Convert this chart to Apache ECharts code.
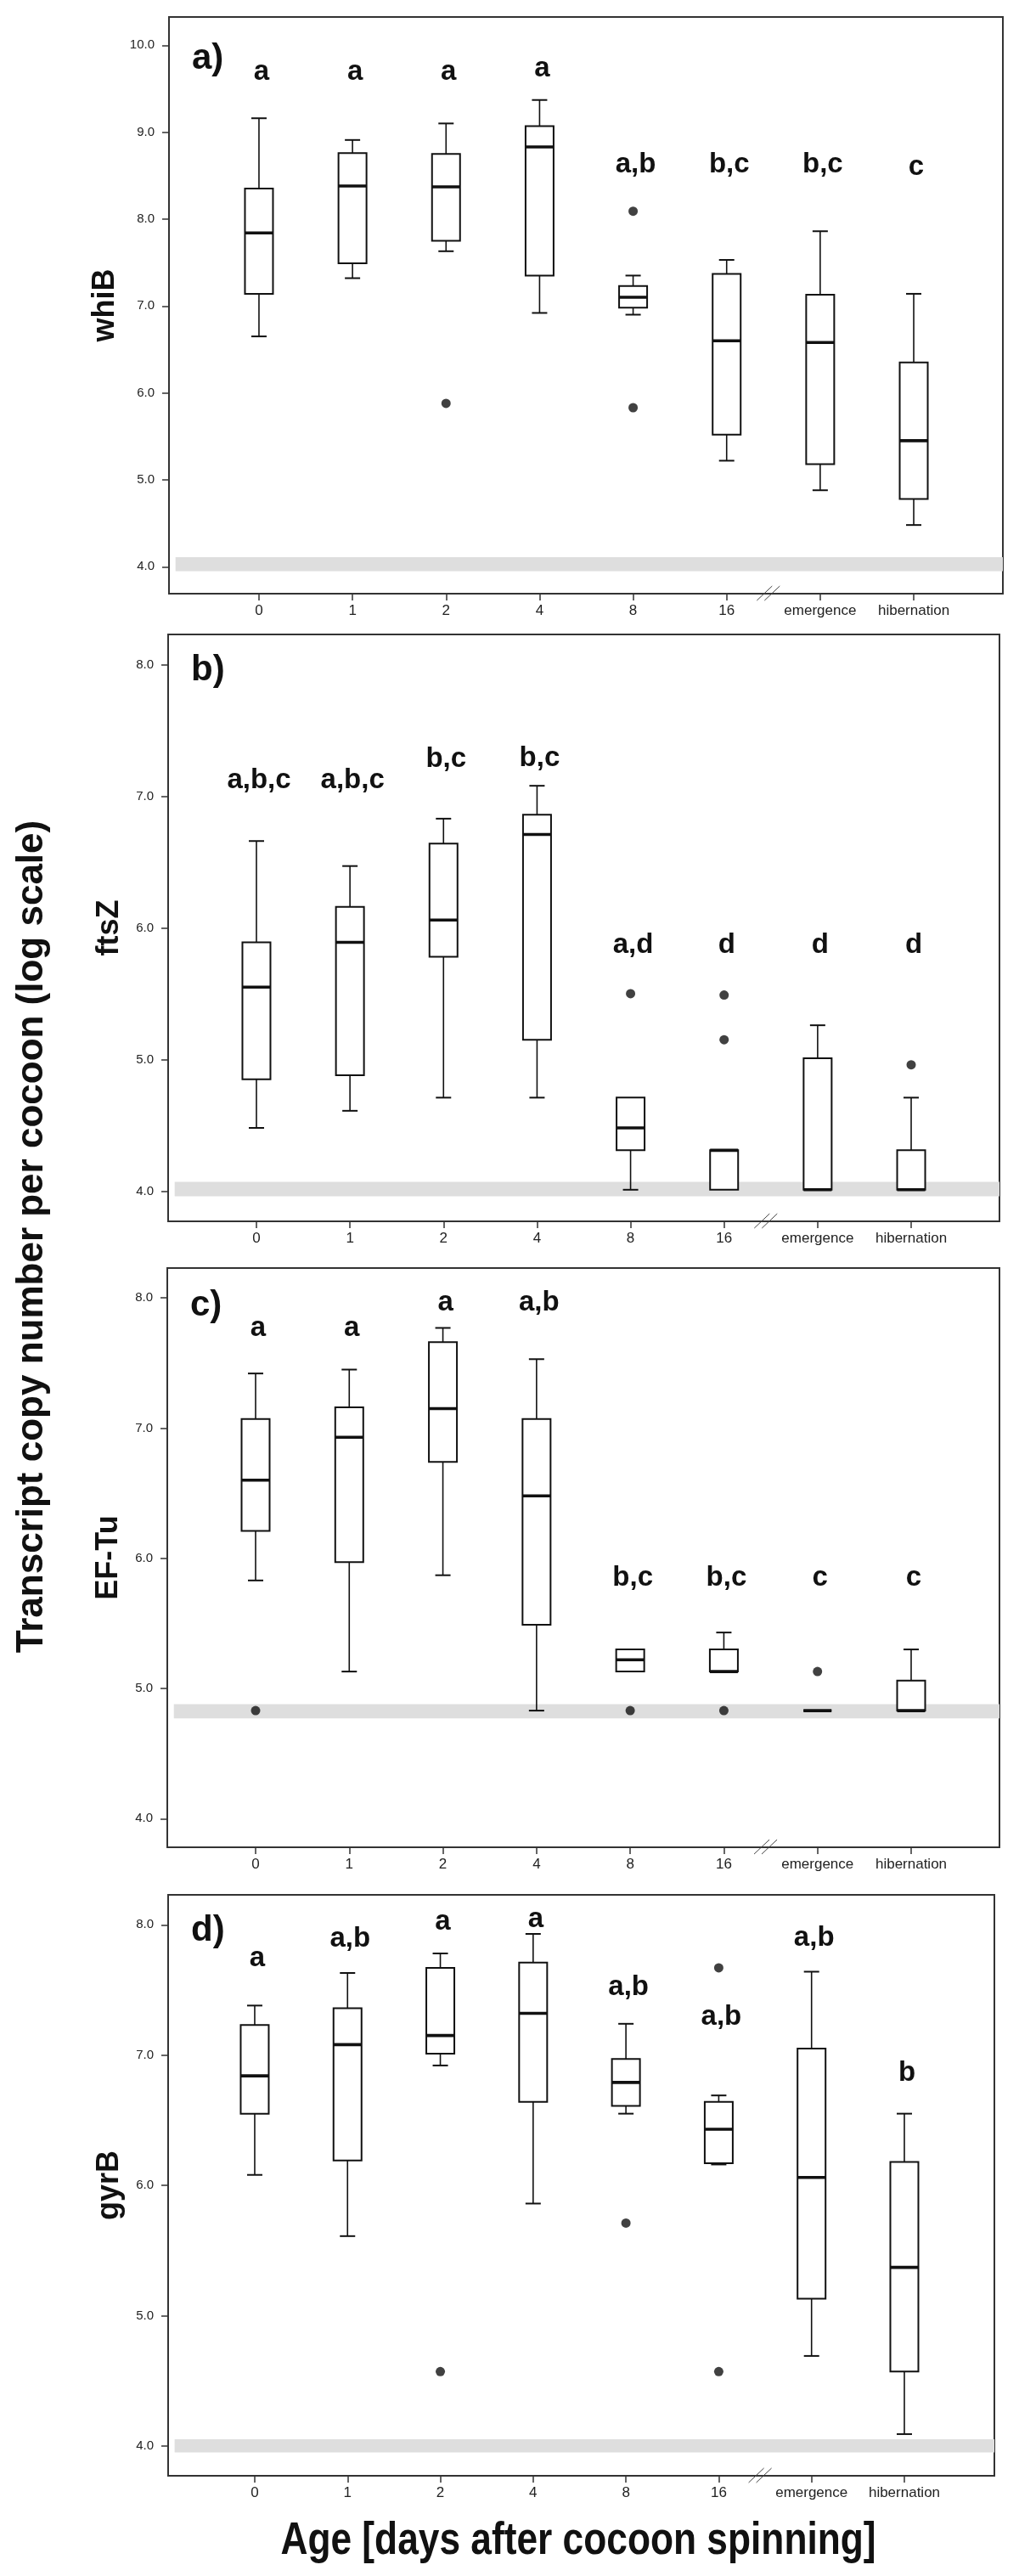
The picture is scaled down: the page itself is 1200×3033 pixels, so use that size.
<!DOCTYPE html>
<html><head><meta charset="utf-8">
<script src="https://cdn.jsdelivr.net/npm/echarts@6/dist/echarts.min.js"></script>
<style>html,body{margin:0;padding:0;background:#fff}#chart{width:1200px;height:3033px}</style>
</head><body><div id="chart"></div>
<script>
// ---------- DATA ----------
const categories = ['0', '1', '2', '4', '8', '16', 'emergence', 'hibernation'];

// box values per category: [min, Q1, median, Q3, max]
const whiB = [[6.65,7.14,7.84,8.35,9.16],[7.32,7.49,8.38,8.76,8.91],[7.63,7.75,8.37,8.75,9.10],[6.92,7.35,8.83,9.07,9.37],
              [6.90,6.98,7.10,7.23,7.35],[5.22,5.52,6.60,7.37,7.53],[4.88,5.18,6.58,7.13,7.86],[4.48,4.78,5.45,6.35,7.14]];
const whiBOutliers = [[2,5.88],[4,8.09],[4,5.83]];
const whiBLetters = ['a','a','a','a','a,b','b,c','b,c','c'];
const whiBLetterY = [9.69,9.69,9.69,9.73,8.63,8.63,8.63,8.60];

const ftsZ = [[4.48,4.85,5.55,5.89,6.66],[4.61,4.88,5.89,6.16,6.47],[4.71,5.78,6.06,6.64,6.83],[4.71,5.15,6.71,6.86,7.08],
              [4.01,4.31,4.48,4.71,4.71],[4.01,4.01,4.31,4.31,4.31],[4.01,4.01,4.01,5.01,5.26],[4.01,4.01,4.01,4.31,4.71]];
const ftsZOutliers = [[4,5.50],[5,5.49],[5,5.15],[7,4.96]];
const ftsZLetters = ['a,b,c','a,b,c','b,c','b,c','a,d','d','d','d'];
const ftsZLetterY = [7.12,7.12,7.28,7.29,5.87,5.87,5.87,5.87];

const efTu = [[5.83,6.21,6.60,7.07,7.42],[5.13,5.97,6.93,7.16,7.45],[5.87,6.74,7.15,7.66,7.77],[4.83,5.49,6.48,7.07,7.53],
              [5.13,5.13,5.22,5.30,5.30],[5.13,5.13,5.13,5.30,5.43],[4.83,4.83,4.83,4.83,4.83],[4.83,4.83,4.83,5.06,5.30]];
const efTuOutliers = [[0,4.83],[4,4.83],[5,4.83],[6,5.13]];
const efTuLetters = ['a','a','a','a,b','b,c','b,c','c','c'];
const efTuLetterY = [7.77,7.77,7.96,7.96,5.85,5.85,5.85,5.85];

const gyrB = [[6.08,6.55,6.84,7.23,7.38],[5.61,6.19,7.08,7.36,7.63],[6.92,7.01,7.15,7.67,7.78],[5.86,6.64,7.32,7.71,7.93],
              [6.55,6.61,6.79,6.97,7.24],[6.16,6.17,6.43,6.64,6.69],[4.69,5.13,6.06,7.05,7.64],[4.09,4.57,5.37,6.18,6.55]];
const gyrBOutliers = [[2,4.57],[4,5.71],[5,7.67],[5,4.57]];
const gyrBLetters = ['a','a,b','a','a','a,b','a,b','a,b','b'];
const gyrBLetterY = [7.74,7.89,8.02,8.04,7.52,7.29,7.90,6.86];

// detection-limit bands [low, high]
const bands = [[3.95,4.11],[3.96,4.07],[4.77,4.88],[3.95,4.05]];
const yTicksA = [4,5,6,7,8,9,10];
const yTicksB = [4,5,6,7,8];
const xTicks = [0,1,2,3,4,5,6,7];
const yTitle = 'Transcript copy number per cocoon (log scale)';
const xTitle = 'Age [days after cocoon spinning]';

// ---------- LAYOUT ----------
const panels = [
  {gene:'whiB', tag:'a)', box:whiB, out:whiBOutliers, let:whiBLetters, letY:whiBLetterY, band:bands[0], yt:yTicksA,
   g:{left:199, top:20, width:982, height:679}, xmin:-0.962, xmax:7.953, ymin:3.69, ymax:10.325, tagY:72},
  {gene:'ftsZ', tag:'b)', box:ftsZ, out:ftsZOutliers, let:ftsZLetters, letY:ftsZLetterY, band:bands[1], yt:yTicksB,
   g:{left:198, top:747, width:979, height:691}, xmin:-0.944, xmax:7.944, ymin:3.77, ymax:8.23, tagY:792},
  {gene:'EF-Tu', tag:'c)', box:efTu, out:efTuOutliers, let:efTuLetters, letY:efTuLetterY, band:bands[2], yt:yTicksB,
   g:{left:197, top:1493, width:980, height:682}, xmin:-0.943, xmax:7.943, ymin:3.78, ymax:8.23, tagY:1540},
  {gene:'gyrB', tag:'d)', box:gyrB, out:gyrBOutliers, let:gyrBLetters, letY:gyrBLetterY, band:bands[3], yt:yTicksB,
   g:{left:198, top:2231, width:973, height:684}, xmin:-0.933, xmax:7.97, ymin:3.77, ymax:8.23, tagY:2276}
];

const SANS = "'Liberation Sans', Arial, sans-serif";
const INK = '#111';

function renderBox(params, api) {
  const x = api.value(0);
  const pMin = api.coord([x, api.value(1)]);
  const pQ1 = api.coord([x, api.value(2)]);
  const pMed = api.coord([x, api.value(3)]);
  const pQ3 = api.coord([x, api.value(4)]);
  const pMax = api.coord([x, api.value(5)]);
  const bw = 33, cw = 18, cx = pMed[0];
  const ch = [];
  const thin = {stroke: INK, lineWidth: 1.6};
  if (pQ3[1] - pMax[1] > 0.5) {
    ch.push({type:'line', shape:{x1:cx, y1:pMax[1], x2:cx, y2:pQ3[1]}, style:thin});
    ch.push({type:'line', shape:{x1:cx-cw/2, y1:pMax[1], x2:cx+cw/2, y2:pMax[1]}, style:{stroke:INK, lineWidth:2}});
  }
  if (pMin[1] - pQ1[1] > 0.5) {
    ch.push({type:'line', shape:{x1:cx, y1:pQ1[1], x2:cx, y2:pMin[1]}, style:thin});
    ch.push({type:'line', shape:{x1:cx-cw/2, y1:pMin[1], x2:cx+cw/2, y2:pMin[1]}, style:{stroke:INK, lineWidth:2}});
  }
  ch.push({type:'rect', shape:{x:cx-bw/2, y:pQ3[1], width:bw, height:pQ1[1]-pQ3[1]},
           style:{fill:'#fff', stroke:INK, lineWidth:2}});
  ch.push({type:'line', shape:{x1:cx-bw/2, y1:pMed[1], x2:cx+bw/2, y2:pMed[1]}, style:{stroke:INK, lineWidth:3.6}});
  return {type:'group', children: ch};
}

function renderLetter(params, api) {
  const p = api.coord([api.value(0), api.value(1)]);
  return {type:'text', x:p[0] + 3, y:p[1],
    style:{text:String(api.value(2)), font:"bold 33px 'Liberation Sans', Arial, sans-serif", fill:INK,
           align:'center', verticalAlign:'middle'}};
}

function renderBreak(params, api) {
  const p = api.coord([api.value(0), api.value(1)]);
  const yb = params.coordSys.y + params.coordSys.height;
  const st = {stroke:'#444', lineWidth:1};
  return {type:'group', children:[
    {type:'line', shape:{x1:p[0]-14, y1:yb+8, x2:p[0]+4, y2:yb-9}, style:st},
    {type:'line', shape:{x1:p[0]-5, y1:yb+8, x2:p[0]+13, y2:yb-9}, style:st}
  ]};
}

const grid = [], xAxis = [], yAxis = [], series = [], graphic = [];
panels.forEach((P, i) => {
  grid.push(Object.assign({show:true, borderColor:'#333', borderWidth:2, backgroundColor:'#fff'}, P.g));
  xAxis.push({
    type:'value', gridIndex:i, min:P.xmin, max:P.xmax,
    axisLine:{show:false, onZero:false}, splitLine:{show:false},
    axisTick:{show:true, customValues:xTicks, length:8, inside:false, lineStyle:{color:'#333', width:1.5}},
    axisLabel:{show:true, customValues:xTicks, formatter:v => categories[Math.round(v)] || '',
               margin:12, fontFamily:SANS, fontSize:17, color:'#222'}
  });
  yAxis.push({
    type:'value', gridIndex:i, min:P.ymin, max:P.ymax,
    axisLine:{show:false, onZero:false}, splitLine:{show:false},
    axisTick:{show:true, customValues:P.yt, length:8, lineStyle:{color:'#333', width:1.5}},
    axisLabel:{show:true, customValues:P.yt, formatter:v => Number(v).toFixed(1),
               margin:17, fontFamily:SANS, fontSize:15, color:'#222'},
    name:P.gene, nameLocation:'middle', nameRotate:90, nameGap:51,
    nameTextStyle:{fontFamily:SANS, fontWeight:'bold', fontSize:36, color:INK}
  });
  series.push({
    type:'custom', xAxisIndex:i, yAxisIndex:i, z:3, silent:true,
    renderItem: renderBox, encode:{x:0, y:[1,2,3,4,5]},
    data: P.box.map((d, k) => [k].concat(d))
  });
  series.push({
    type:'scatter', xAxisIndex:i, yAxisIndex:i, z:4, silent:true,
    symbol:'circle', symbolSize:11, itemStyle:{color:INK},
    data: P.out,
    markArea:{silent:true, itemStyle:{color:'#dedede'},
      data:[[{xAxis:P.xmin+0.07, yAxis:P.band[0]}, {xAxis:P.xmax, yAxis:P.band[1]}]]}
  });
  series.push({
    type:'custom', xAxisIndex:i, yAxisIndex:i, z:5, silent:true,
    renderItem: renderLetter, encode:{x:0, y:1},
    dimensions:['x','y',{name:'t', type:'ordinal'}],
    data: P.let.map((t, k) => [k, P.letY[k], t])
  });
  series.push({
    type:'custom', xAxisIndex:i, yAxisIndex:i, z:6, silent:true,
    renderItem: renderBreak, encode:{x:0, y:1},
    data:[[5.45, P.ymin]]
  });
  graphic.push({type:'text', left: P.g.left + 27, top: P.tagY - 24,
    style:{text:P.tag, font:"bold 42px 'Liberation Sans', Arial, sans-serif", fill:INK}});
});

graphic.push({type:'text', x:38, y:1456, rotation:Math.PI/2,
  style:{text:yTitle, font:"bold 44px 'Liberation Sans', Arial, sans-serif", fill:INK, align:'center', verticalAlign:'middle'}});
graphic.push({type:'text', x:681, y:2992, scaleX:0.82,
  style:{text:xTitle, font:"bold 54px 'Liberation Sans', Arial, sans-serif", fill:INK, align:'center', verticalAlign:'middle'}});

const chart = echarts.init(document.getElementById('chart'), null, {renderer:'canvas'});
chart.setOption({animation:false, backgroundColor:'#fff', grid, xAxis, yAxis, series, graphic});
</script></body></html>
